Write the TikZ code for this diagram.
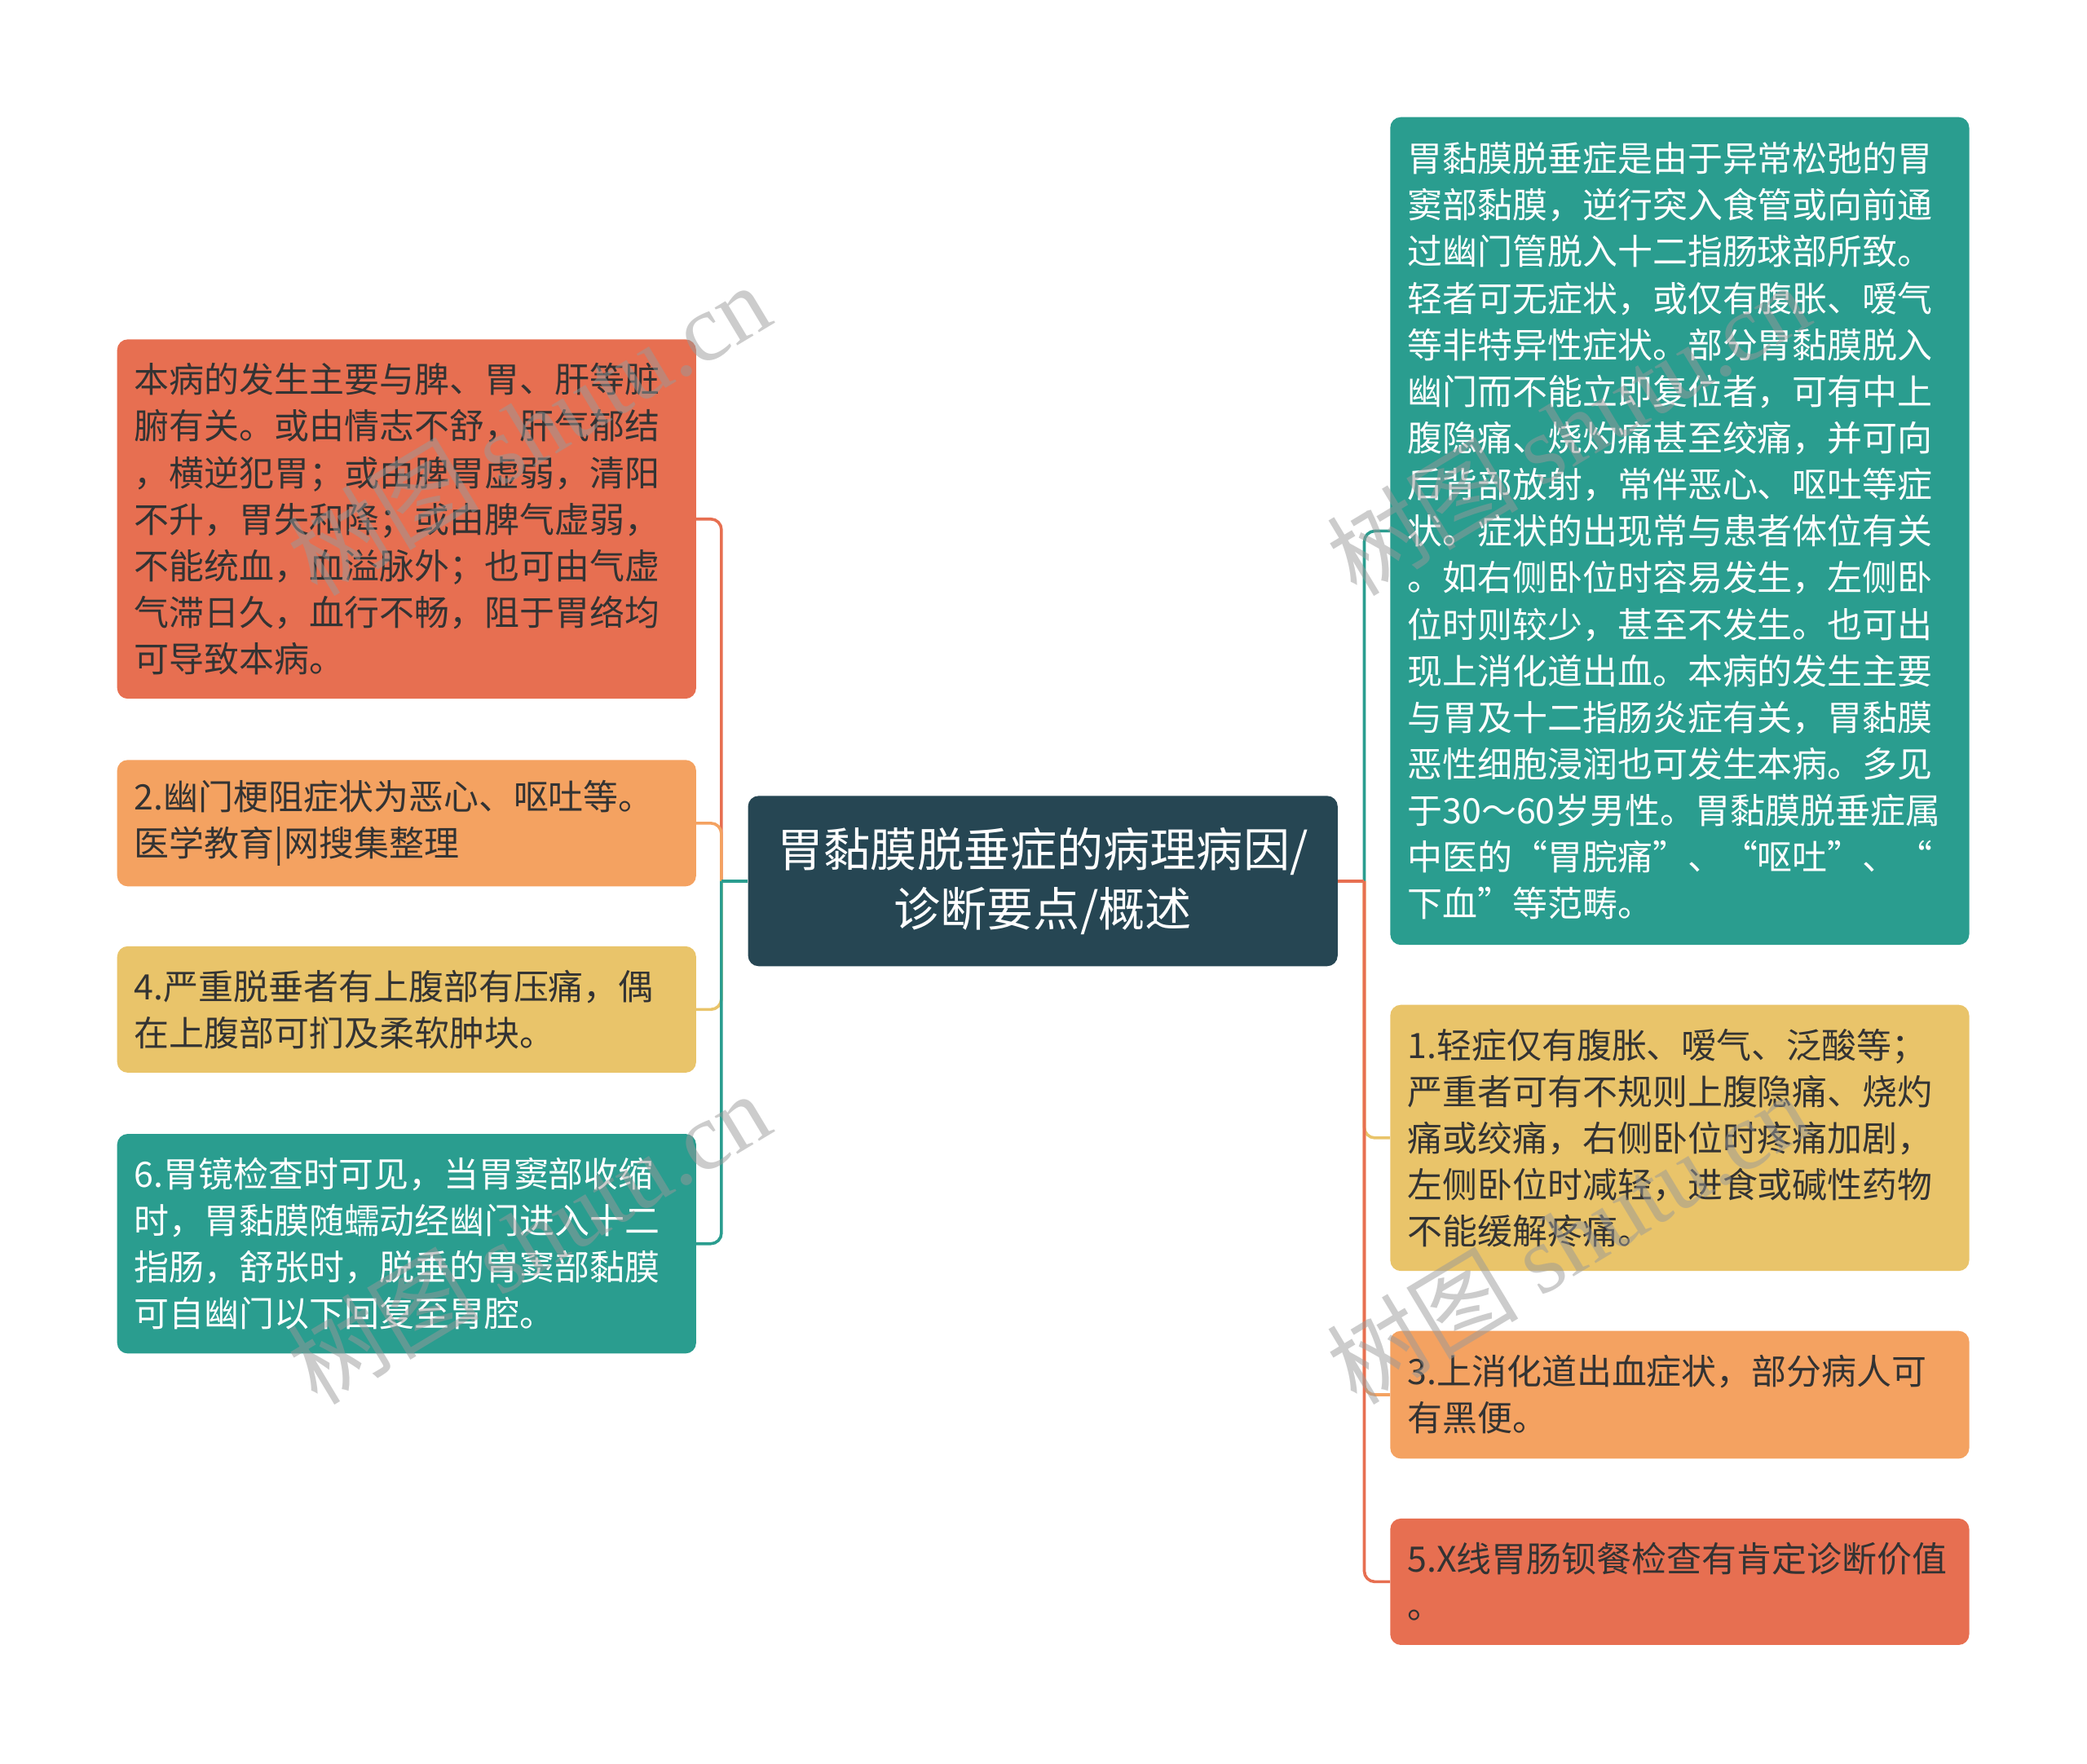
\documentclass[tikz,border=0pt]{standalone}
\usepackage{fontspec}
\newfontfamily\cjk{Noto Sans CJK SC}
\newfontfamily\wmserif{Liberation Serif}
\usepackage{tikz}
\definecolor{rootcol}{HTML}{264653}
\definecolor{tealcol}{HTML}{2A9D8F}
\definecolor{sandcol}{HTML}{E9C46A}
\definecolor{peachcol}{HTML}{F4A261}
\definecolor{coralcol}{HTML}{E76F51}
\definecolor{inkcol}{HTML}{333333}
\tikzstyle{leaf} = [rectangle, rounded corners=8pt, text width=409pt, inner xsep=13pt, inner ysep=0pt,
                    align=left, text=inkcol, font=\cjk\fontsize{26.3}{35}\selectfont]
\tikzstyle{topic} = [rectangle, rounded corners=8pt, fill=rootcol, text=white, text width=415pt, inner xsep=14pt,
                     align=center, minimum height=128pt, font=\cjk\fontsize{35}{45}\selectfont]
\tikzstyle{twig} = [line width=2.2pt]
\tikzstyle{watermark} = [rotate=31, text=black!40, opacity=0.5, font=\cjk\fontsize{72}{72}\selectfont]

\begin{document}
\begin{tikzpicture}[x=1pt, y=-1pt]
				\useasboundingbox (0, 0) rectangle (1568, 1325);

				\node (Root) [topic] at (783.5, 662) {胃黏膜脱垂症的病理病因/\\诊断要点/概述};
				\coordinate (LeftJoin) at (542, 662);
				\coordinate (RightJoin) at (1025, 662);

				% pathogenesis
				\node (Cause) [leaf, fill=coralcol, minimum height=270pt] at (305.5, 390) {本病的发生主要与脾、胃、肝等脏\\腑有关。或由情志不舒，肝气郁结\\，横逆犯胃；或由脾胃虚弱，清阳\\不升，胃失和降；或由脾气虚弱，\\不能统血，血溢脉外；也可由气虚\\气滞日久，血行不畅，阻于胃络均\\可导致本病。};
				\coordinate (CauseIn) at (542, 390);
				\draw [twig, draw=coralcol] (Root.west) -- (LeftJoin);
				\draw [twig, draw=coralcol, rounded corners=8pt] (LeftJoin) -- (CauseIn) -- (Cause.east);

				% pyloric obstruction
				\node (Obstruct) [leaf, fill=peachcol, minimum height=95pt] at (305.5, 618.5) {2.幽门梗阻症状为恶心、呕吐等。\\医学教育|网搜集整理};
				\coordinate (ObstructIn) at (542, 618.5);
				\draw [twig, draw=peachcol] (Root.west) -- (LeftJoin);
				\draw [twig, draw=peachcol, rounded corners=8pt] (LeftJoin) -- (ObstructIn) -- (Obstruct.east);

				% tenderness
				\node (Tender) [leaf, fill=sandcol, minimum height=95pt] at (305.5, 758.5) {4.严重脱垂者有上腹部有压痛，偶\\在上腹部可扪及柔软肿块。};
				\coordinate (TenderIn) at (542, 758.5);
				\draw [twig, draw=sandcol] (Root.west) -- (LeftJoin);
				\draw [twig, draw=sandcol, rounded corners=8pt] (LeftJoin) -- (TenderIn) -- (Tender.east);

				% endoscopy
				\node (Endoscope) [leaf, fill=tealcol, text=white, minimum height=165pt] at (305.5, 934.5) {6.胃镜检查时可见，当胃窦部收缩\\时，胃黏膜随蠕动经幽门进入十二\\指肠，舒张时，脱垂的胃窦部黏膜\\可自幽门以下回复至胃腔。};
				\coordinate (EndoscopeIn) at (542, 934.5);
				\draw [twig, draw=tealcol] (Root.west) -- (LeftJoin);
				\draw [twig, draw=tealcol, rounded corners=8pt] (LeftJoin) -- (EndoscopeIn) -- (Endoscope.east);

				% overview
				\node (Overview) [leaf, fill=tealcol, text=white, minimum height=622pt] at (1262, 399) {胃黏膜脱垂症是由于异常松弛的胃\\窦部黏膜，逆行突入食管或向前通\\过幽门管脱入十二指肠球部所致。\\轻者可无症状，或仅有腹胀、嗳气\\等非特异性症状。部分胃黏膜脱入\\幽门而不能立即复位者，可有中上\\腹隐痛、烧灼痛甚至绞痛，并可向\\后背部放射，常伴恶心、呕吐等症\\状。症状的出现常与患者体位有关\\。如右侧卧位时容易发生，左侧卧\\位时则较少，甚至不发生。也可出\\现上消化道出血。本病的发生主要\\与胃及十二指肠炎症有关，胃黏膜\\恶性细胞浸润也可发生本病。多见\\于30～60岁男性。胃黏膜脱垂症属\\中医的“胃脘痛”、“呕吐”、“\\下血”等范畴。};
				\coordinate (OverviewIn) at (1025, 399);
				\draw [twig, draw=tealcol] (Root.east) -- (RightJoin);
				\draw [twig, draw=tealcol, rounded corners=8pt] (RightJoin) -- (OverviewIn) -- (Overview.west);

				% mild and severe symptoms
				\node (Symptom) [leaf, fill=sandcol, minimum height=200pt] at (1262, 855) {1.轻症仅有腹胀、嗳气、泛酸等；\\严重者可有不规则上腹隐痛、烧灼\\痛或绞痛，右侧卧位时疼痛加剧，\\左侧卧位时减轻，进食或碱性药物\\不能缓解疼痛。};
				\coordinate (SymptomIn) at (1025, 855);
				\draw [twig, draw=sandcol] (Root.east) -- (RightJoin);
				\draw [twig, draw=sandcol, rounded corners=8pt] (RightJoin) -- (SymptomIn) -- (Symptom.west);

				% bleeding
				\node (Bleed) [leaf, fill=peachcol, minimum height=96pt] at (1262, 1048) {3.上消化道出血症状，部分病人可\\有黑便。};
				\coordinate (BleedIn) at (1025, 1048);
				\draw [twig, draw=peachcol] (Root.east) -- (RightJoin);
				\draw [twig, draw=peachcol, rounded corners=8pt] (RightJoin) -- (BleedIn) -- (Bleed.west);

				% barium meal
				\node (Barium) [leaf, fill=coralcol, minimum height=95pt] at (1262, 1188.5) {5.X线胃肠钡餐检查有肯定诊断价值\\。};
				\coordinate (BariumIn) at (1025, 1188.5);
				\draw [twig, draw=coralcol] (Root.east) -- (RightJoin);
				\draw [twig, draw=coralcol, rounded corners=8pt] (RightJoin) -- (BariumIn) -- (Barium.west);

				% watermarks
				\node (MarkA) [watermark] at (397, 322) {树图 {\wmserif shutu.cn}};
				\node (MarkB) [watermark] at (397, 930) {树图 {\wmserif shutu.cn}};
				\node (MarkC) [watermark] at (1178, 322) {树图 {\wmserif shutu.cn}};
				\node (MarkD) [watermark] at (1178, 930) {树图 {\wmserif shutu.cn}};
\end{tikzpicture}
\end{document}
